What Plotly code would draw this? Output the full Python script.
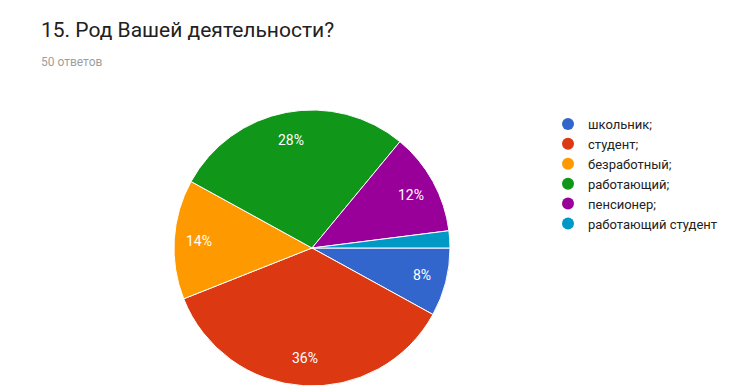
import math
import plotly.graph_objects as go

categories = ["школьник;", "студент;", "безработный;", "работающий;", "пенсионер;", "работающий студент"]
counts = [4, 18, 7, 14, 6, 1]
colors = ["#3366cc", "#dc3912", "#ff9900", "#109618", "#990099", "#0099c6"]

W, H = 751, 387
CX, CY, R = 304, 240, 138  # pie centre / radius in figure pixels (from top-left)

total = sum(counts)
pct = [c * 100 / total for c in counts]

fig = go.Figure()
fig.add_trace(go.Pie(
    labels=categories,
    values=counts,
    sort=False,
    direction="clockwise",
    rotation=90,
    marker=dict(colors=colors, line=dict(color="white", width=1)),
    textinfo="none",
    showlegend=False,
    hoverinfo="label+percent",
    domain=dict(x=[(CX - R) / W, (CX + R) / W], y=[(H - CY - R) / H, (H - CY + R) / H]),
))

for name, col in zip(categories, colors):
    fig.add_trace(go.Scatter(
        x=[None], y=[None], mode="markers", name=name,
        marker=dict(symbol="circle", size=13, color=col),
        showlegend=True,
    ))

# percentage labels placed at 0.8 radius along each slice's mid-angle
annotations = []
cum = 0
for c, p in zip(counts, pct):
    mid = (cum + c / 2) / total * 2 * math.pi
    cum += c
    if p < 5:
        continue
    ang = -mid  # clockwise from 3 o'clock
    px = CX + 0.82 * R * math.cos(ang)
    py = CY - 0.8 * R * math.sin(ang)
    annotations.append(dict(
        text=f"{round(p)}%", x=px / W, y=1 - py / H, xref="paper", yref="paper",
        xanchor="center", yanchor="middle", showarrow=False,
        font=dict(size=14, color="white", family="Roboto, Arial"),
    ))

annotations += [
    dict(text="15. Род Вашей деятельности?", x=31 / W, y=1 - 22 / H,
         xref="paper", yref="paper", xanchor="left", yanchor="middle",
         showarrow=False, font=dict(size=21, color="#212121", family="Roboto, Arial")),
    dict(text="50 ответов", x=31 / W, y=1 - 54 / H,
         xref="paper", yref="paper", xanchor="left", yanchor="middle",
         showarrow=False, font=dict(size=12, color="#9e9e9e", family="Roboto, Arial")),
]

fig.update_layout(
    width=W, height=H,
    margin=dict(l=0, r=0, t=0, b=0),
    paper_bgcolor="white", plot_bgcolor="white",
    font=dict(family="Roboto, Arial", color="#222222"),
    xaxis=dict(visible=False), yaxis=dict(visible=False),
    legend=dict(
        x=540 / W, y=1 - 101 / H, xanchor="left", yanchor="top",
        font=dict(size=13, color="#222222", family="Roboto, Arial"),
        itemsizing="constant", tracegroupgap=0, bgcolor="rgba(0,0,0,0)",
    ),
    annotations=annotations,
)

fig.write_html("out.html")
